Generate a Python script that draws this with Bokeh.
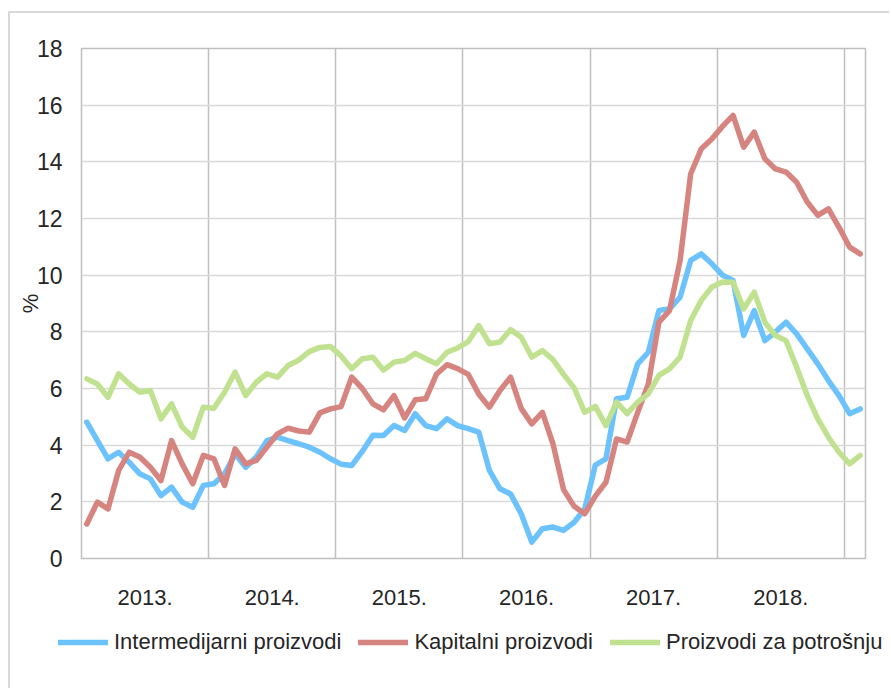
from bokeh.plotting import figure
from bokeh.layouts import column
from bokeh.models import FixedTicker, Legend, LegendItem, Range1d
from bokeh.embed import file_html
from bokeh.resources import INLINE

years = ["2013.", "2014.", "2015.", "2016.", "2017.", "2018."]

intermedijarni = [
    4.81, 4.16, 3.52, 3.75, 3.40, 2.99, 2.81, 2.22, 2.52, 1.99, 1.81, 2.58,
    2.64, 2.99, 3.69, 3.22, 3.58, 4.16, 4.28, 4.16, 4.05, 3.93, 3.75, 3.52,
    3.33, 3.28, 3.78, 4.35, 4.34, 4.69, 4.52, 5.11, 4.69, 4.58, 4.93, 4.69,
    4.58, 4.46, 3.11, 2.46, 2.28, 1.58, 0.58, 1.05, 1.11, 0.99, 1.28, 1.75,
    3.30, 3.52, 5.64, 5.69, 6.87, 7.28, 8.75, 8.81, 9.22, 10.52, 10.75, 10.40,
    10.00, 9.81, 7.87, 8.75, 7.69, 7.99, 8.34, 7.93, 7.40, 6.87, 6.28, 5.75,
    5.11, 5.28,
]
kapitalni = [
    1.22, 1.99, 1.75, 3.10, 3.75, 3.58, 3.22, 2.75, 4.16, 3.34, 2.64, 3.64,
    3.52, 2.58, 3.87, 3.34, 3.46, 3.93, 4.40, 4.60, 4.50, 4.46, 5.14, 5.28,
    5.36, 6.40, 6.00, 5.46, 5.25, 5.75, 4.96, 5.60, 5.64, 6.50, 6.84, 6.70,
    6.50, 5.80, 5.34, 5.93, 6.40, 5.30, 4.75, 5.16, 4.05, 2.43, 1.84, 1.58,
    2.20, 2.69, 4.22, 4.11, 5.16, 6.16, 8.34, 8.75, 10.52, 13.58, 14.46, 14.81,
    15.25, 15.64, 14.52, 15.05, 14.11, 13.75, 13.64, 13.28, 12.58, 12.11, 12.34, 11.69,
    10.99, 10.75,
]
potrosnja = [
    6.34, 6.16, 5.69, 6.52, 6.16, 5.87, 5.93, 4.93, 5.46, 4.64, 4.28, 5.34,
    5.30, 5.87, 6.58, 5.75, 6.22, 6.52, 6.40, 6.81, 7.00, 7.30, 7.45, 7.48,
    7.15, 6.70, 7.05, 7.10, 6.65, 6.93, 6.99, 7.24, 7.05, 6.87, 7.28, 7.43,
    7.65, 8.22, 7.58, 7.64, 8.08, 7.81, 7.11, 7.34, 7.02, 6.50, 6.02, 5.16,
    5.37, 4.69, 5.52, 5.11, 5.52, 5.81, 6.46, 6.69, 7.11, 8.40, 9.11, 9.58,
    9.76, 9.75, 8.81, 9.40, 8.34, 7.87, 7.69, 6.75, 5.75, 4.93, 4.28, 3.75,
    3.34, 3.64,
]
series_names = ["Intermedijarni proizvodi", "Kapitalni proizvodi", "Proizvodi za potrošnju"]
colors = ["#6cc2fd", "#d6847f", "#c0e290"]

FONT = "Liberation Sans"
FS = "22px"
TXT = "#262626"
n = len(intermedijarni)
x = [i + 0.5 for i in range(n)]
all_series = [intermedijarni, kapitalni, potrosnja]

p = figure(width=881, height=605, x_range=(0, n), y_range=(0, 18),
           output_backend="svg", toolbar_location=None,
           min_border_left=71, min_border_right=26, min_border_top=35,
           min_border_bottom=60)
p.styles = {"border-left": "2px solid #d9d9d9", "border-top": "2px solid #d9d9d9",
            "margin-left": "8px", "margin-top": "11px"}
p.outline_line_color = "#bfbfbf"
p.outline_line_width = 1.5
p.background_fill_color = "white"
p.border_fill_color = "white"

# y axis
p.yaxis.ticker = FixedTicker(ticks=list(range(0, 19, 2)))
p.yaxis.axis_line_color = "#bfbfbf"
p.yaxis.major_tick_line_color = None
p.yaxis.minor_tick_line_color = None
p.yaxis.major_label_text_font = FONT
p.yaxis.major_label_text_font_size = "23px"
p.yaxis.major_label_text_color = TXT
p.yaxis.major_label_standoff = 13
p.yaxis.axis_label = "%"
p.yaxis.axis_label_text_font = FONT
p.yaxis.axis_label_text_font_size = FS
p.yaxis.axis_label_text_font_style = "normal"
p.yaxis.axis_label_text_color = TXT
p.yaxis.axis_label_standoff = -9
p.ygrid.ticker = FixedTicker(ticks=list(range(2, 18, 2)))
p.ygrid.grid_line_color = "#d9d9d9"
p.ygrid.grid_line_width = 1.5

# x axis: year labels centred in each year
label_ticks = [6 + 12 * k for k in range(len(years))]
p.xaxis.ticker = FixedTicker(ticks=label_ticks)
p.xaxis.major_label_overrides = {t: lab for t, lab in zip(label_ticks, years)}
p.xaxis.axis_line_color = "#bfbfbf"
p.xaxis.major_tick_line_color = None
p.xaxis.minor_tick_line_color = None
p.xaxis.major_label_text_font = FONT
p.xaxis.major_label_text_font_size = FS
p.xaxis.major_label_text_color = TXT
p.xaxis.major_label_standoff = 25
p.xgrid.ticker = FixedTicker(ticks=[12 * k for k in range(1, len(years) + 1)])
p.xgrid.grid_line_color = "#bfbfbf"
p.xgrid.grid_line_width = 1.5

for vals, col in zip(all_series, colors):
    p.line(x, vals, line_color=col, line_width=5.5, line_join="round", line_cap="round")

# legend strip below the chart (its lines lie outside its view; only the legend shows)
lf = figure(width=881, height=72, x_range=Range1d(0, n), y_range=Range1d(-20, -19),
            output_backend="svg", toolbar_location=None,
            x_axis_type=None, y_axis_type=None,
            min_border_left=48, min_border_right=0, min_border_top=0, min_border_bottom=0)
lf.styles = {"border-left": "2px solid #d9d9d9", "margin-left": "8px"}
lf.outline_line_color = None
lf.grid.visible = False
lf.background_fill_color = "white"
lf.border_fill_color = "white"
leg_renderers = [lf.line(x, vals, line_color=col, line_width=5.5, line_cap="round")
                 for vals, col in zip(all_series, colors)]
legend = Legend(items=[LegendItem(label=nm, renderers=[r]) for nm, r in zip(series_names, leg_renderers)],
                orientation="horizontal", location=(0, 33),
                glyph_width=50, glyph_height=24, label_standoff=6, spacing=17,
                label_text_font=FONT, label_text_font_size=FS, label_text_color=TXT,
                border_line_alpha=0, background_fill_alpha=0, padding=0, margin=0)
lf.add_layout(legend, "center")

layout = column(p, column(lf, spacing=0), spacing=0)
open("out.html", "w").write(file_html(layout, INLINE))
